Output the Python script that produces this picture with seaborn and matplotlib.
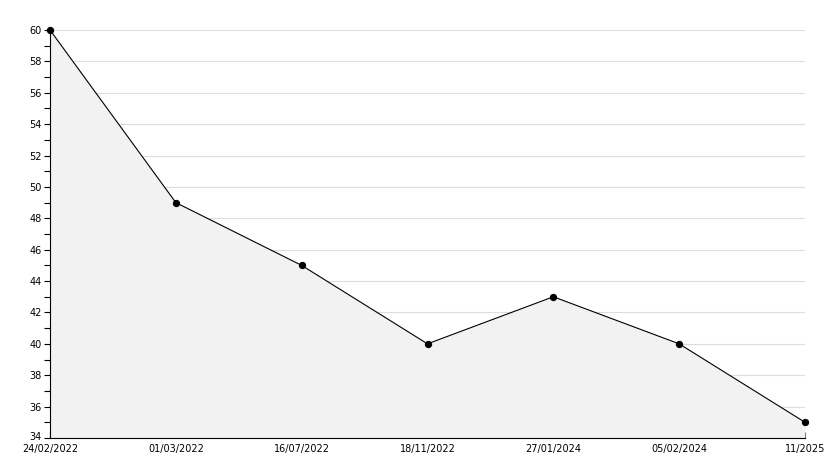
import matplotlib
matplotlib.use("Agg")
import matplotlib.pyplot as plt
import matplotlib.transforms as mtransforms
import seaborn as sns
import pandas as pd
import numpy as np

dates = ["24/02/2022", "01/03/2022", "16/07/2022", "18/11/2022", "27/01/2024", "05/02/2024", "11/2025"]
values = [60, 49, 45, 40, 43, 40, 35]
y_ticks = list(range(34, 61, 2))

sns.set_style("white")
plt.rcParams['font.family'] = ['DejaVu Sans']

df = pd.DataFrame({"idx": np.arange(len(dates)), "value": values})

fig = plt.figure(figsize=(8.34, 4.68), dpi=100)
ax = fig.add_axes([50/834, 1 - 438/468, (805-50)/834, (438-30)/468])

ax.fill_between(df["idx"], df["value"], 34, color="#f2f2f2", zorder=1, linewidth=0)
sns.lineplot(data=df, x="idx", y="value", ax=ax, color="black", linewidth=0.8,
             marker="o", markersize=4.5, markeredgecolor="black", zorder=3, clip_on=False)

ax.set_xlim(0, len(dates) - 1)
ax.set_ylim(34, 60)
ax.set_yticks(y_ticks)
ax.set_yticks(range(35, 60, 2), minor=True)
ax.set_xticks(df["idx"])
ax.set_xticklabels(dates)
ax.set_xlabel("")
ax.set_ylabel("")

ax.yaxis.grid(True, color="#dddddd", linewidth=0.8, zorder=0)
ax.xaxis.grid(False)
ax.set_axisbelow(True)

for s in ["top", "right"]:
    ax.spines[s].set_visible(False)
for s in ["left", "bottom"]:
    ax.spines[s].set_color("black")
    ax.spines[s].set_linewidth(0.8)

ax.tick_params(axis="y", which="both", direction="out", length=4, width=0.8, labelsize=7, pad=2, left=True, colors="black")
ax.tick_params(axis="x", direction="in", length=4, width=0.8, labelsize=7, pad=4, bottom=True, colors="black")

# nudge lowest y label up slightly to avoid touching the first date label
lbl = ax.get_yticklabels()[0]
lbl.set_transform(lbl.get_transform() + mtransforms.ScaledTranslation(0, 2/100, fig.dpi_scale_trans))

fig.savefig("out.png", dpi=100)
